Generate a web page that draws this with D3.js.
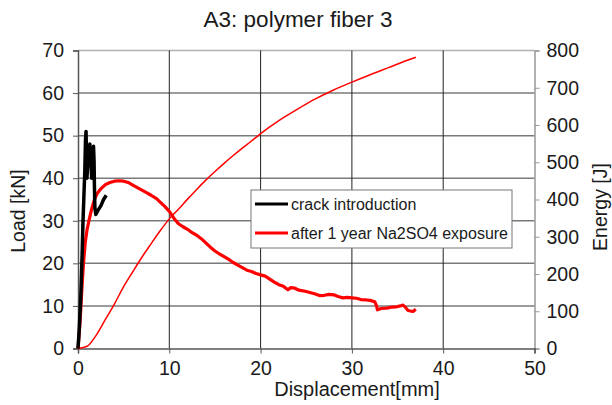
<!DOCTYPE html>
<html><head><meta charset="utf-8">
<script src="https://cdn.jsdelivr.net/npm/d3@7"></script>
<style>body{margin:0;background:#fff}svg{display:block}text{font-family:"Liberation Sans",Arial,sans-serif;fill:#1a1a1a}</style>
</head><body>
<svg id="c" width="612" height="405"></svg>
<script>
const title = "A3: polymer fiber 3";
const xTicks = [0,10,20,30,40,50];
const loadTicks = [0,10,20,30,40,50,60,70];
const energyTicks = [0,100,200,300,400,500,600,700,800];
const seriesNames = ["crack introduction","after 1 year Na2SO4 exposure"];
// crack introduction: [displacement mm, load kN]
const crackLoad = [[0,0],[0.15,5],[0.3,12],[0.45,22],[0.55,30],[0.65,36],[0.75,42],[0.82,49],[0.88,51],[0.93,46],[0.98,40],[1.05,43],[1.15,47],[1.3,48],[1.4,44],[1.5,40],[1.6,45],[1.7,47.5],[1.76,44],[1.8,38],[1.85,33],[1.95,31.5],[2.2,32.5],[2.5,33.5],[2.8,35],[3.1,36]];
// after 1 year Na2SO4 exposure: [displacement mm, load kN]
const agedLoad = [[0,0],[0.15,4],[0.3,9],[0.45,15],[0.6,20],[0.8,25],[1.0,28],[1.25,30.5],[1.5,32.8],[1.8,35],[2.1,36.4],[2.5,37.5],[3.0,38.5],[3.5,39],[4.0,39.3],[4.5,39.4],[5.0,39.3],[5.5,39],[6.0,38.4],[6.5,37.8],[7.0,37.2],[7.5,36.6],[8.0,36.0],[8.6,35.2],[9.0,34.4],[9.5,33.4],[10.0,32.2],[10.5,30.6],[11.0,29.3],[11.5,28.6],[12.0,28],[12.5,27.2],[13.0,26.6],[13.5,25.8],[14.0,24.8],[14.5,23.8],[15.0,22.9],[15.5,22.2],[16.0,21.6],[16.6,20.8],[17.0,20.2],[17.5,19.6],[18.0,19.0],[18.5,18.4],[19.0,18.1],[19.5,17.6],[20.0,17.3],[20.5,17.0],[21.0,16.3],[21.5,15.6],[22.0,15.0],[22.5,14.6],[23.0,13.8],[23.3,14.3],[23.7,14.2],[24.2,13.7],[25.0,13.4],[25.5,13.1],[26.0,12.8],[26.5,12.4],[27.0,12.5],[27.5,12.7],[28.0,12.6],[28.5,12.2],[29.0,11.9],[29.5,12.0],[30.0,11.9],[30.5,11.8],[31.0,11.5],[31.6,11.4],[32.0,11.3],[32.5,11.0],[32.7,10.0],[32.8,9.1],[33.2,9.4],[33.8,9.5],[34.3,9.7],[34.9,9.8],[35.3,10.0],[35.6,10.2],[35.9,9.6],[36.1,9.0],[36.4,8.8],[36.7,8.7],[37.0,9.2]];
// after 1 year Na2SO4 exposure: [displacement mm, energy J]
const agedEnergy = [[0,0],[1,6],[2,36],[3,78],[4,120],[5,166],[6,206],[7,245],[8,281],[9,316],[10,348],[11,374],[12,401],[13,427],[14,452],[15,475],[16,497],[17,518],[18,538],[19,557],[20,577],[22,612],[24,642],[26,670],[28,694],[30,715],[32,735],[34,754],[36,773],[37,782]];

const svg = d3.select("#c");
const L=78, R=534.5, T=50.5, B=348.5;
const x = d3.scaleLinear().domain([0,50]).range([L,R]);
const yL = d3.scaleLinear().domain([0,70]).range([B,T]);
const yR = d3.scaleLinear().domain([0,800]).range([B,T]);

// grid
svg.append("g").selectAll("line").data(loadTicks.filter(d=>d>0&&d<70)).join("line")
  .attr("x1",L).attr("x2",R).attr("y1",d=>yL(d)).attr("y2",d=>yL(d))
  .attr("stroke","#7a7a7a").attr("stroke-width",1.5);
svg.append("line").attr("x1",L).attr("x2",R).attr("y1",T).attr("y2",T).attr("stroke","#b0b0b0").attr("stroke-width",1.5);
svg.append("g").selectAll("line").data(xTicks.filter(d=>d>0&&d<50)).join("line")
  .attr("x1",d=>x(d)).attr("x2",d=>x(d)).attr("y1",T).attr("y2",B)
  .attr("stroke","#222").attr("stroke-width",1);

// axes
const axL = svg.append("g").attr("transform",`translate(${L},0)`).call(d3.axisLeft(yL).tickValues(loadTicks).tickSize(5).tickPadding(9));
const axR = svg.append("g").attr("transform",`translate(${R},0)`).call(d3.axisRight(yR).tickValues(energyTicks).tickSize(5).tickPadding(7));
const axB = svg.append("g").attr("transform",`translate(0,${B})`).call(d3.axisBottom(x).tickValues(xTicks).tickSize(5).tickPadding(8));
axL.select(".domain").attr("stroke","#555").attr("stroke-width",1.5);
axR.select(".domain").attr("stroke","#999").attr("stroke-width",1.5);
axB.select(".domain").attr("stroke","#555").attr("stroke-width",1.5);
axL.selectAll(".tick line").attr("stroke","#555");
axR.selectAll(".tick line").attr("stroke","#999");
axB.selectAll(".tick line").attr("stroke","#555");
[axL,axR,axB].forEach(a=>a.selectAll("text").attr("font-size",19.5).attr("fill","#1a1a1a").style("font-family","Liberation Sans, Arial, sans-serif"));

// lines
const lineL = d3.line().x(d=>x(d[0])).y(d=>yL(d[1]));
const lineR = d3.line().x(d=>x(d[0])).y(d=>yR(d[1])).curve(d3.curveMonotoneX);
svg.append("path").datum(agedEnergy).attr("d",lineR).attr("fill","none").attr("stroke","#ff0000").attr("stroke-width",1.5);
svg.append("path").datum(agedLoad).attr("d",lineL).attr("fill","none").attr("stroke","#ff0000").attr("stroke-width",3.2).attr("stroke-linejoin","round");
svg.append("path").datum(crackLoad).attr("d",lineL).attr("fill","none").attr("stroke","#000").attr("stroke-width",3.5).attr("stroke-linejoin","round");

// titles
svg.append("text").attr("x",298).attr("y",27).attr("text-anchor","middle").attr("font-size",22.5).text(title);
svg.append("text").attr("x",357).attr("y",396).attr("text-anchor","middle").attr("font-size",20).text("Displacement[mm]");
svg.append("text").attr("transform","translate(25,211) rotate(-90)").attr("text-anchor","middle").attr("font-size",19.5).text("Load [kN]");
svg.append("text").attr("transform","translate(607,207) rotate(-90)").attr("text-anchor","middle").attr("font-size",19.5).text("Energy [J]");

// legend
const lg = svg.append("g");
lg.append("rect").attr("x",251).attr("y",190).attr("width",261).attr("height",58).attr("fill","#fff").attr("stroke","#777").attr("stroke-width",1);
const colors = ["#000","#ff0000"];
seriesNames.forEach((n,i)=>{
  const yy = 204 + i*29;
  lg.append("line").attr("x1",255).attr("x2",288).attr("y1",yy).attr("y2",yy).attr("stroke",colors[i]).attr("stroke-width",3);
  lg.append("text").attr("x",291).attr("y",yy+5.5).attr("font-size",16).text(n);
});
</script>
</body></html>
